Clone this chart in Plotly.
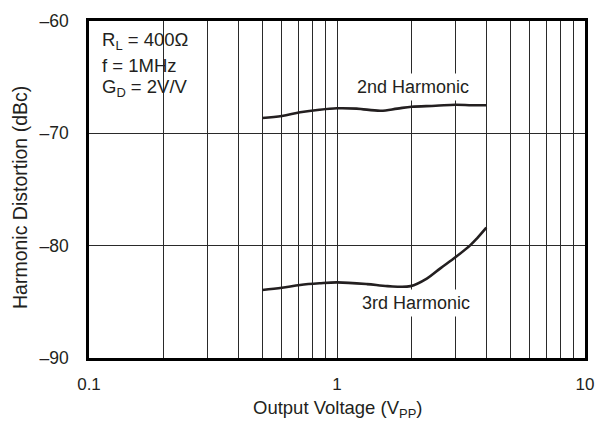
import plotly.graph_objects as go

# Data
v_2nd = [0.5, 0.6, 0.71, 0.85, 1.0, 1.2, 1.5, 1.75, 2.0, 2.5, 3.0, 3.5, 4.0]
hd_2nd = [-68.64, -68.45, -68.13, -67.9, -67.77, -67.8, -67.99, -67.8, -67.63, -67.55, -67.45, -67.5, -67.5]

v_3rd = [0.5, 0.6, 0.71, 0.85, 1.0, 1.32, 1.6, 1.98, 2.31, 2.61, 3.02, 3.45, 3.67, 4.0]
hd_3rd = [-83.95, -83.75, -83.5, -83.35, -83.27, -83.42, -83.6, -83.6, -82.91, -82.02, -80.99, -79.95, -79.35, -78.4]

x_grid = [0.1, 0.2, 0.3, 0.4, 0.5, 0.6, 0.7, 0.8, 0.9,
          1, 2, 3, 4, 5, 6, 7, 8, 9, 10]
x_labels = ["0.1", "", "", "", "", "", "", "", "",
            "1", "", "", "", "", "", "", "", "", "10"]
y_ticks = [-90, -80, -70, -60]
y_labels = ["\u201390", "\u201380", "\u201370", "\u201360"]

FONT = "Liberation Sans, Arial, Helvetica, sans-serif"
LINE = "#231f20"

fig = go.Figure()
fig.add_trace(go.Scatter(x=v_2nd, y=hd_2nd, mode="lines",
                         line=dict(color=LINE, width=2.6, shape="spline"),
                         showlegend=False))
fig.add_trace(go.Scatter(x=v_3rd, y=hd_3rd, mode="lines",
                         line=dict(color=LINE, width=2.6, shape="spline"),
                         showlegend=False))

fig.update_layout(
    width=598, height=424,
    margin=dict(l=89, r=13, t=21, b=66),
    paper_bgcolor="white", plot_bgcolor="white",
    font=dict(family=FONT, size=17, color="#231f20"),
    showlegend=False,
)
fig.update_xaxes(
    type="log", range=[-1, 1], automargin=False,
    tickmode="array", tickvals=x_grid, ticktext=x_labels,
    showgrid=True, gridcolor="#2a2a2a", gridwidth=1,
    showline=True, mirror=True, linecolor="black", linewidth=2.5,
    ticks="", ticklabelstandoff=9, zeroline=False,
    tickfont=dict(size=17),
)
fig.update_yaxes(
    range=[-90, -60], automargin=False,
    tickmode="array", tickvals=y_ticks, ticktext=y_labels,
    showgrid=True, gridcolor="#2a2a2a", gridwidth=1,
    showline=True, mirror=True, linecolor="black", linewidth=2.5,
    ticks="", ticklabelstandoff=14, zeroline=False,
    tickfont=dict(size=17.5),
)

# White box behind condition text
fig.add_shape(type="rect", xref="paper", yref="paper",
              x0=0.006, x1=0.215, y0=1 - (107 - 21) / 336, y1=0.995,
              fillcolor="white", line=dict(width=0), layer="between")

cond = ["R<sub>L</sub> = 400\u03a9", "f = 1MHz", "G<sub>D</sub> = 2V/V"]
cond_y = [41, 65, 88]
for t, py in zip(cond, cond_y):
    fig.add_annotation(text=t, xref="paper", yref="paper",
                       x=(100 - 89) / 496, y=1 - (py - 21) / 336,
                       xanchor="left", yanchor="middle", showarrow=False,
                       font=dict(size=18.5))

fig.add_annotation(text="2nd Harmonic", x=0.3077, y=-65.88, xref="x", yref="y",
                   showarrow=False, bgcolor="white", borderpad=3,
                   font=dict(size=18))
fig.add_annotation(text="3rd Harmonic", x=0.3198, y=-85.11, xref="x", yref="y",
                   showarrow=False, bgcolor="white", borderpad=3,
                   font=dict(size=18))

fig.add_annotation(text="Output Voltage (V<sub>PP</sub>)", xref="paper", yref="paper",
                   x=(337 - 89) / 496, y=-(409 - 358) / 337, xanchor="center", yanchor="middle",
                   showarrow=False, font=dict(size=18.5))
fig.add_annotation(text="Harmonic Distortion (dBc)", xref="paper", yref="paper",
                   x=-(89 - 20) / 496, y=1 - (198 - 21) / 337, xanchor="center", yanchor="middle",
                   textangle=-90, showarrow=False, font=dict(size=19.5))

fig.write_html("out.html", config={"displayModeBar": False},
               post_script="document.body.style.margin='0';document.body.style.padding='0';")
